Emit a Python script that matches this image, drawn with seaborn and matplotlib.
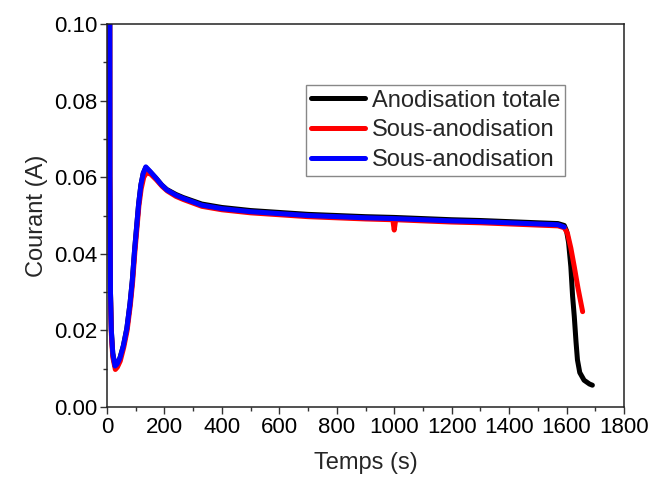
import numpy as np
import pandas as pd
import matplotlib
matplotlib.use('Agg')
import matplotlib.pyplot as plt
import seaborn as sns
from matplotlib.ticker import MultipleLocator

# Données (temps en s, courant en A)
t_blue = [9, 10, 12, 15, 20, 28, 35, 45, 57, 69, 80, 88, 96, 103, 110, 118, 126, 135,
          150, 170, 190, 208, 240, 265, 330, 400, 500, 600, 700, 800, 900, 1000,
          1100, 1200, 1300, 1400, 1500, 1570, 1592]
i_blue = [0.16, 0.06, 0.03, 0.02, 0.014, 0.0107, 0.0112, 0.0128, 0.016, 0.0205, 0.027,
          0.033, 0.041, 0.047, 0.053, 0.058, 0.061, 0.0627, 0.0615, 0.0598, 0.058,
          0.0567, 0.0553, 0.0545, 0.0527, 0.0518, 0.0510, 0.0505, 0.0500, 0.0497,
          0.0494, 0.0492, 0.0489, 0.0486, 0.0484, 0.0481, 0.0478, 0.0476, 0.0470]

t_red = [9, 10, 12, 15, 20, 29, 36, 46, 58, 70, 81, 89, 97, 104, 111, 119, 128, 138,
         152, 172, 192, 210, 240, 265, 330, 400, 500, 600, 700, 800, 900, 995, 1000,
         1005, 1100, 1200, 1300, 1400, 1500, 1570, 1592, 1603, 1615, 1627, 1640, 1656]
i_red = [0.16, 0.06, 0.03, 0.019, 0.013, 0.0098, 0.0104, 0.012, 0.0155, 0.020, 0.0265,
         0.0325, 0.0405, 0.0465, 0.0525, 0.057, 0.060, 0.0612, 0.0608, 0.0593, 0.0576,
         0.0564, 0.0550, 0.0542, 0.0524, 0.0515, 0.0507, 0.0502, 0.0497, 0.0494,
         0.0491, 0.0489, 0.0462, 0.0489, 0.0486, 0.0483, 0.0481, 0.0478, 0.0475,
         0.0473, 0.0468, 0.0454, 0.0415, 0.0366, 0.031, 0.0249]

t_black = [9, 10, 12, 15, 20, 28, 35, 45, 57, 69, 80, 88, 96, 103, 110, 118, 126, 135,
           150, 170, 190, 208, 240, 265, 330, 400, 500, 600, 700, 800, 900, 1000,
           1100, 1200, 1300, 1400, 1500, 1570, 1592, 1600, 1607, 1615, 1621, 1627,
           1633, 1638, 1646, 1661, 1680, 1690]
i_black = [0.16, 0.06, 0.03, 0.02, 0.014, 0.0107, 0.0112, 0.0128, 0.016, 0.0205, 0.027,
           0.033, 0.041, 0.047, 0.053, 0.058, 0.061, 0.0625, 0.0614, 0.0598, 0.058,
           0.0568, 0.0555, 0.0547, 0.0530, 0.0521, 0.0513, 0.0508, 0.0503, 0.0500,
           0.0497, 0.0495, 0.0492, 0.0489, 0.0487, 0.0484, 0.0481, 0.0479, 0.0474,
           0.0460, 0.0430, 0.0366, 0.029, 0.0236, 0.017, 0.0123, 0.009, 0.0070,
           0.0060, 0.0057]

labels = ['Anodisation totale', 'Sous-anodisation', 'Sous-anodisation']
colors = ['black', 'red', 'blue']

sns.set_style('ticks')
plt.rcParams['font.family'] = ['Liberation Sans', 'DejaVu Sans']

fig, ax = plt.subplots(figsize=(6.51, 4.83), dpi=100)
fig.subplots_adjust(left=0.1644, right=0.9585, bottom=0.1573, top=0.9503)

series = [(t_black, i_black), (t_red, i_red), (t_blue, i_blue)]
for (t, i), lab, col in zip(series, labels, colors):
    sns.lineplot(x=t, y=i, ax=ax, color=col, linewidth=3.6, label=lab, sort=False,
                 solid_capstyle='round', solid_joinstyle='round')

ax.set_xlim(0, 1800)
ax.set_ylim(0, 0.10)
ax.xaxis.set_major_locator(MultipleLocator(200))
ax.xaxis.set_minor_locator(MultipleLocator(100))
ax.yaxis.set_major_locator(MultipleLocator(0.02))
ax.yaxis.set_minor_locator(MultipleLocator(0.01))
ax.yaxis.set_major_formatter(plt.FormatStrFormatter('%.2f'))
ax.tick_params(which='major', length=5, width=1, labelsize=16, direction='out',
               colors='#333333', labelcolor='black', pad=2)
ax.tick_params(which='minor', length=3, width=1, direction='out', colors='#333333')
for s in ax.spines.values():
    s.set_linewidth(1.1)
    s.set_color('#222222')

ax.set_xlabel('Temps (s)', fontsize=17, labelpad=10)
ax.set_ylabel('Courant (A)', fontsize=17, labelpad=4)

leg = ax.legend(loc='upper left', bbox_to_anchor=(0.385, 0.841), fontsize=17,
                frameon=True, fancybox=False, edgecolor='#888888', framealpha=1,
                handlelength=2.3, handletextpad=0.3, labelspacing=0.33,
                borderpad=0.2, borderaxespad=0)
leg.get_frame().set_linewidth(1)

plt.savefig('out.png', dpi=100)
